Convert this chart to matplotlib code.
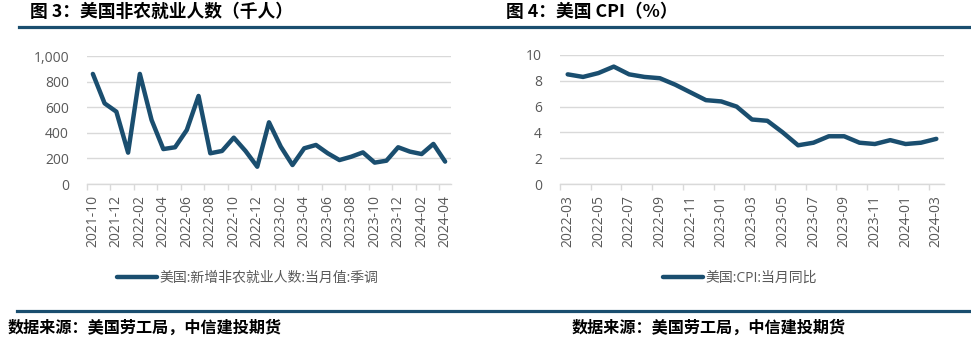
import matplotlib
matplotlib.use('Agg')
import matplotlib.pyplot as plt
from matplotlib.lines import Line2D
import numpy as np

# ---------------- data ----------------
payroll_months = ['2021-10', '2021-11', '2021-12', '2022-01', '2022-02', '2022-03', '2022-04',
                  '2022-05', '2022-06', '2022-07', '2022-08', '2022-09', '2022-10', '2022-11',
                  '2022-12', '2023-01', '2023-02', '2023-03', '2023-04', '2023-05', '2023-06',
                  '2023-07', '2023-08', '2023-09', '2023-10', '2023-11', '2023-12', '2024-01',
                  '2024-02', '2024-03', '2024-04']
payroll_values = [860, 630, 565, 245, 860, 500, 273, 287, 422, 688, 240, 258, 362, 258,
                  135, 482, 292, 148, 279, 305, 240, 187, 213, 247, 167, 182, 287, 253,
                  234, 313, 175]

cpi_months = ['2022-03', '2022-04', '2022-05', '2022-06', '2022-07', '2022-08', '2022-09',
              '2022-10', '2022-11', '2022-12', '2023-01', '2023-02', '2023-03', '2023-04',
              '2023-05', '2023-06', '2023-07', '2023-08', '2023-09', '2023-10', '2023-11',
              '2023-12', '2024-01', '2024-02', '2024-03']
cpi_values = [8.5, 8.3, 8.6, 9.1, 8.5, 8.3, 8.2, 7.7, 7.1, 6.5, 6.4, 6.0, 5.0, 4.9,
              4.0, 3.0, 3.2, 3.7, 3.7, 3.2, 3.1, 3.4, 3.1, 3.2, 3.5]

payroll_yticks = [0, 200, 400, 600, 800, 1000]
cpi_yticks = [0, 2, 4, 6, 8, 10]

title_left = '图 3：美国非农就业人数（千人）'
title_right = '图 4：美国 CPI（%）'
legend_left = '美国:新增非农就业人数:当月值:季调'
legend_right = '美国:CPI:当月同比'
source_text = '数据来源：美国劳工局，中信建投期货'

# ---------------- style ----------------
W, H = 971, 342
LINE = '#1a4e6f'
GRAY = '#595959'
GRID = '#d9d9d9'
FAM = ['Open Sans', 'Noto Sans CJK SC', 'DejaVu Sans']
CJK = ['Noto Sans CJK SC', 'DejaVu Sans']
plt.rcParams['font.family'] = FAM

fig = plt.figure(figsize=(W / 100, H / 100), dpi=100)


def fx(px):
    return px / W


def fy(py):
    return 1 - py / H


def panel(rect, cats, vals, yticks, yfmt, label, legend_x):
    ax = fig.add_axes(rect)
    n = len(cats)
    x = np.arange(n)
    ax.plot(x, vals, color=LINE, lw=3.2, solid_capstyle='round',
            solid_joinstyle='round', label=label, zorder=3)
    ax.set_xlim(-0.5, n - 0.5)
    ax.set_ylim(yticks[0], yticks[-1])
    ax.set_yticks(yticks)
    ax.set_yticklabels([yfmt(v) for v in yticks])
    ax.grid(axis='y', color=GRID, lw=1)
    ax.set_axisbelow(True)
    for s in ['left', 'right', 'top']:
        ax.spines[s].set_visible(False)
    ax.spines['bottom'].set_color(GRID)
    ax.spines['bottom'].set_linewidth(1)
    ax.tick_params(axis='y', length=0, pad=13, labelsize=10, labelcolor=GRAY)
    ax.set_xticks(x[::2])
    ax.set_xticklabels(cats[::2], rotation=90)
    ax.set_xticks(np.arange(-0.5, n - 1, 2), minor=True)
    ax.tick_params(axis='x', which='major', length=0, pad=8, labelsize=10, labelcolor=GRAY)
    ax.tick_params(axis='x', which='minor', length=4, color=GRID, width=1)
    leg = ax.legend(loc='center left', bbox_to_anchor=(fx(legend_x), fy(278)),
                    bbox_transform=fig.transFigure, frameon=False, borderpad=0,
                    borderaxespad=0, handlelength=2.9, handletextpad=0.15,
                    prop={'size': 10, 'family': FAM})
    for t in leg.get_texts():
        t.set_color(GRAY)
    return ax


panel([fx(87), fy(184), 364 / W, 128 / H], payroll_months, payroll_values,
      payroll_yticks, lambda v: f'{v:,}', legend_left, 117)
panel([fx(560), fy(184), 384 / W, 129 / H], cpi_months, cpi_values,
      cpi_yticks, lambda v: f'{v}', legend_right, 663)

# titles
fig.text(fx(30), fy(12), title_left, fontsize=12.8, fontweight='bold',
         family=CJK, va='center', ha='left', color='black')
fig.text(fx(506), fy(12), title_right, fontsize=12.8, fontweight='bold',
         family=CJK, va='center', ha='left', color='black')

# separator lines
fig.add_artist(Line2D([fx(19), 1], [fy(27), fy(27)], transform=fig.transFigure,
                      color=LINE, lw=2.3))
fig.add_artist(Line2D([fx(17), 1], [fy(311), fy(311)], transform=fig.transFigure,
                      color=LINE, lw=2.3))

# sources
fig.text(fx(8), fy(328), source_text, fontsize=11.6, fontweight='bold', style='italic',
         family=CJK, va='center', ha='left', color='black')
fig.text(fx(572), fy(328), source_text, fontsize=11.6, fontweight='bold', style='italic',
         family=CJK, va='center', ha='left', color='black')

fig.savefig('out.png', dpi=100)
